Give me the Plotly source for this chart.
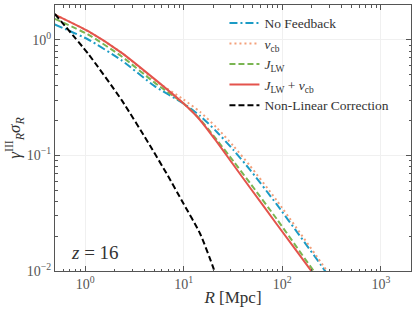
import plotly.graph_objects as go

# Data
R_red = [0.493, 1.075, 2.35, 5.11, 9.91, 14.64, 21.6, 31.9, 47.1, 87.9, 199.3, 253.5]
y_red = [1.653, 1.186, 0.771, 0.4545, 0.2821, 0.2025, 0.1315, 0.0830, 0.0525, 0.02539, 0.00986, 0.00743]

R_green = [0.493, 1.075, 2.35, 5.11, 9.91, 14.64, 21.6, 31.9, 47.1, 87.9, 210.3, 272]
y_green = [1.518, 1.111, 0.7176, 0.4238, 0.2821, 0.2053, 0.1366, 0.0891, 0.0576, 0.02815, 0.00988, 0.00743]

R_blue = [0.493, 1.075, 2.35, 5.11, 9.91, 14.64, 21.6, 31.9, 47.1, 87.9, 272, 335.7]
y_blue = [1.355, 1.006, 0.663, 0.3955, 0.2821, 0.2201, 0.1604, 0.1115, 0.0750, 0.03763, 0.00998, 0.00743]

R_orange = [0.493, 1.075, 2.35, 5.11, 9.91, 14.64, 21.6, 31.9, 47.1, 87.9, 287, 359.9]
y_orange = [1.653, 1.186, 0.771, 0.4455, 0.3053, 0.2382, 0.1738, 0.1208, 0.0812, 0.0407, 0.00988, 0.00743]

R_black = [0.493, 1.075, 2.35, 4.55, 6.72, 9.91, 14.64, 19.98, 21.28]
y_black = [1.676, 0.757, 0.3006, 0.1217, 0.0695, 0.0385, 0.0211, 0.01063, 0.00889]

x_tickvals = [1, 10, 100, 1000]
x_ticktext = ["10<sup>0</sup>", "10<sup>1</sup>", "10<sup>2</sup>", "10<sup>3</sup>"]
y_tickvals = [0.01, 0.1, 1]
y_ticktext = ["10<sup>−2</sup>", "10<sup>−1</sup>", "10<sup>0</sup>"]
x_minor = [m * 10 ** e for e in range(-1, 4) for m in range(2, 10)]
y_minor = [m * 10 ** e for e in range(-3, 1) for m in range(2, 10)]

FONT = "Liberation Serif"
C_BLUE = "#1b9bc5"
C_ORANGE = "#f3a07a"
C_GREEN = "#7ab552"
C_RED = "#e4534c"

fig = go.Figure()
def add(x, y, name, color, dash):
    fig.add_trace(go.Scatter(x=x, y=y, mode="lines", name=name,
                             line=dict(color=color, width=2, dash=dash, shape="spline", smoothing=0.6)))

add(R_blue, y_blue, "No Feedback", C_BLUE, "8px,3px,2px,3px")
add(R_orange, y_orange, "<i>v</i><sub>cb</sub>", C_ORANGE, "2px,3px")
add(R_green, y_green, "<i>J</i><sub>LW</sub>", C_GREEN, "6px,3px")
add(R_red, y_red, "<i>J</i><sub>LW</sub> + <i>v</i><sub>cb</sub>", C_RED, "solid")
add(R_black, y_black, "Non-Linear Correction", "black", "6px,3px")

axis_common = dict(
    type="log", showline=True, linecolor="#555", linewidth=1, mirror="allticks",
    ticks="inside", ticklen=5, tickcolor="#555", showgrid=True, gridcolor="#f0f0f0",
    zeroline=False, tickfont=dict(family=FONT, size=14, color="#555"), automargin=False,
)

fig.update_xaxes(**axis_common, range=[-0.305, 3.305], tickvals=x_tickvals, ticktext=x_ticktext,
                 minor=dict(tickmode="array", tickvals=x_minor, ticks="inside", ticklen=2.5,
                            tickcolor="#555", showgrid=False),
                 title=dict(text="<i>R</i> [Mpc]", font=dict(family=FONT, size=17, color="#333"), standoff=0))
fig.update_yaxes(**axis_common, range=[-2, 0.301], tickvals=y_tickvals, ticktext=y_ticktext,
                 minor=dict(tickmode="array", tickvals=y_minor, ticks="inside", ticklen=2.5,
                            tickcolor="#555", showgrid=False),
                 title=dict(text="<i>γ</i><sup>III</sup><sub><i>R</i></sub><i>σ</i><sub><i>R</i></sub>",
                            font=dict(family=FONT, size=17, color="#333"), standoff=0))

fig.add_annotation(x=0.04, y=0.07, xref="paper", yref="paper", xanchor="left", yanchor="middle",
                   text="<i>z</i> = 16", showarrow=False, font=dict(family=FONT, size=19, color="#333"))

fig.update_layout(
    width=415, height=312,
    margin=dict(l=55, r=4, t=5, b=41),
    plot_bgcolor="white", paper_bgcolor="white",
    font=dict(family=FONT, color="#333"),
    legend=dict(x=0.476, y=0.99, xanchor="left", yanchor="top", bgcolor="rgba(0,0,0,0)",
                font=dict(family=FONT, size=13.5, color="#333"), tracegroupgap=0, itemwidth=30),
)

fig.write_html("out.html", config={"displayModeBar": False},
               post_script="document.body.style.margin='0';document.body.style.overflow='hidden';")
